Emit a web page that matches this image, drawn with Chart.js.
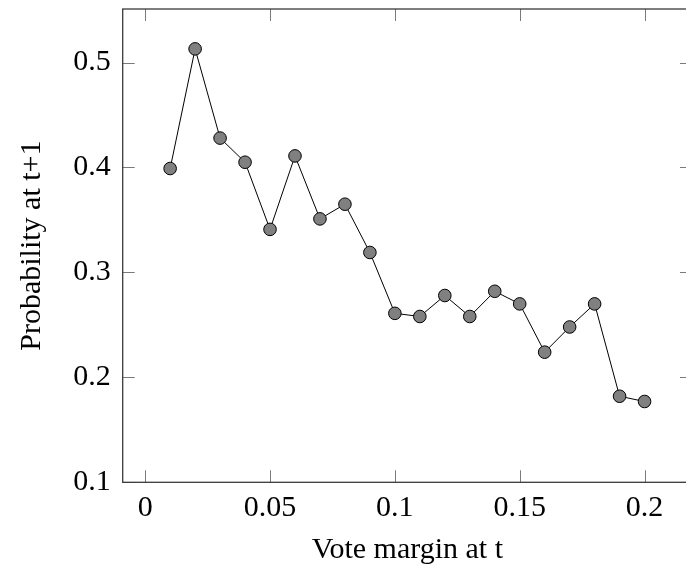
<!DOCTYPE html>
<html>
<head>
<meta charset="utf-8">
<script src="https://cdn.jsdelivr.net/npm/chart.js@4"></script>
<style>
  html, body { margin: 0; padding: 0; background: #fff; overflow: hidden; }
  #wrap { width: 706px; height: 568px; }
  #chart { width: 706px; height: 568px; display: block; }
</style>
</head>
<body>
<div id="wrap"><canvas id="chart" width="706" height="568"></canvas></div>
<script>
// values
const margins = [0.01, 0.02, 0.03, 0.04, 0.05, 0.06, 0.07, 0.08, 0.09, 0.1,
  0.11, 0.12, 0.13, 0.14, 0.15, 0.16, 0.17, 0.18, 0.19, 0.2];
const probabilities = [0.399, 0.513, 0.428, 0.405, 0.341, 0.411, 0.351, 0.365, 0.319, 0.261,
  0.258, 0.278, 0.258, 0.282, 0.270, 0.224, 0.248, 0.270, 0.182, 0.177];
const xTicks = [0, 0.05, 0.1, 0.15, 0.2];
const yTicks = [0.1, 0.2, 0.3, 0.4, 0.5];

const FONT = "'Liberation Serif', 'Times New Roman', serif";

// frame with inward ticks on all four sides, pgfplots style
const framePlugin = {
  id: "frame",
  beforeDatasetsDraw(chart) {
    const { ctx, chartArea: a, scales } = chart;
    const len = 12;
    ctx.save();
    ctx.strokeStyle = "#7a7a7a";
    ctx.lineWidth = 1;
    ctx.beginPath();
    xTicks.forEach((v) => {
      const px = Math.round(scales.x.getPixelForValue(v)) + 0.5;
      ctx.moveTo(px, a.bottom);
      ctx.lineTo(px, a.bottom - len);
      ctx.moveTo(px, a.top);
      ctx.lineTo(px, a.top + len);
    });
    yTicks.forEach((v) => {
      const py = Math.round(scales.y.getPixelForValue(v)) + 0.5;
      ctx.moveTo(a.left, py);
      ctx.lineTo(a.left + len, py);
      ctx.moveTo(a.right, py);
      ctx.lineTo(a.right - len, py);
    });
    ctx.stroke();
    ctx.strokeStyle = "#3a3a3a";
    ctx.lineWidth = 1.3;
    ctx.strokeRect(a.left, a.top, a.right - a.left, a.bottom - a.top);
    ctx.restore();
  },
};

new Chart(document.getElementById("chart"), {
  type: "line",
  data: {
    datasets: [
      {
        data: margins.map((m, i) => ({ x: m, y: probabilities[i] })),
        borderColor: "#000",
        borderWidth: 1,
        backgroundColor: "#808080",
        pointBackgroundColor: "#808080",
        pointBorderColor: "#000",
        pointBorderWidth: 1,
        pointRadius: 6.3,
        tension: 0,
        clip: false,
      },
    ],
  },
  options: {
    responsive: false,
    animation: false,
    devicePixelRatio: 1,
    layout: { padding: { left: 0, top: 9, right: 14, bottom: 0 } },
    plugins: {
      legend: { display: false },
      tooltip: { enabled: false },
    },
    scales: {
      x: {
        type: "linear",
        min: -0.009,
        max: 0.219,
        afterBuildTicks: (scale) => {
          scale.ticks = xTicks.map((v) => ({ value: v }));
        },
        afterFit: (scale) => {
          scale.height = 85.7;
          scale.paddingLeft = 0;
          scale.paddingRight = 0;
        },
        grid: { display: false, drawTicks: false },
        border: { display: false },
        ticks: {
          padding: 8,
          color: "#000",
          font: { family: FONT, size: 30 },
          maxRotation: 0,
          callback: (v) => String(v),
        },
        title: {
          display: true,
          text: "Vote margin at t",
          color: "#000",
          font: { family: FONT, size: 30 },
          padding: { top: 0, bottom: 0 },
        },
      },
      y: {
        type: "linear",
        min: 0.1,
        max: 0.551,
        afterBuildTicks: (scale) => {
          scale.ticks = yTicks.map((v) => ({ value: v }));
        },
        afterFit: (scale) => {
          scale.width = 122.7;
          scale.paddingTop = 0;
          scale.paddingBottom = 0;
        },
        grid: { display: false, drawTicks: false },
        border: { display: false },
        ticks: {
          padding: 12,
          color: "#000",
          font: { family: FONT, size: 30 },
          callback: (v) => String(v),
        },
        title: {
          display: true,
          text: "Probability at t+1",
          color: "#000",
          font: { family: FONT, size: 30 },
          padding: { top: 14, bottom: 0 },
        },
      },
    },
  },
  plugins: [framePlugin],
});
</script>
</body>
</html>
